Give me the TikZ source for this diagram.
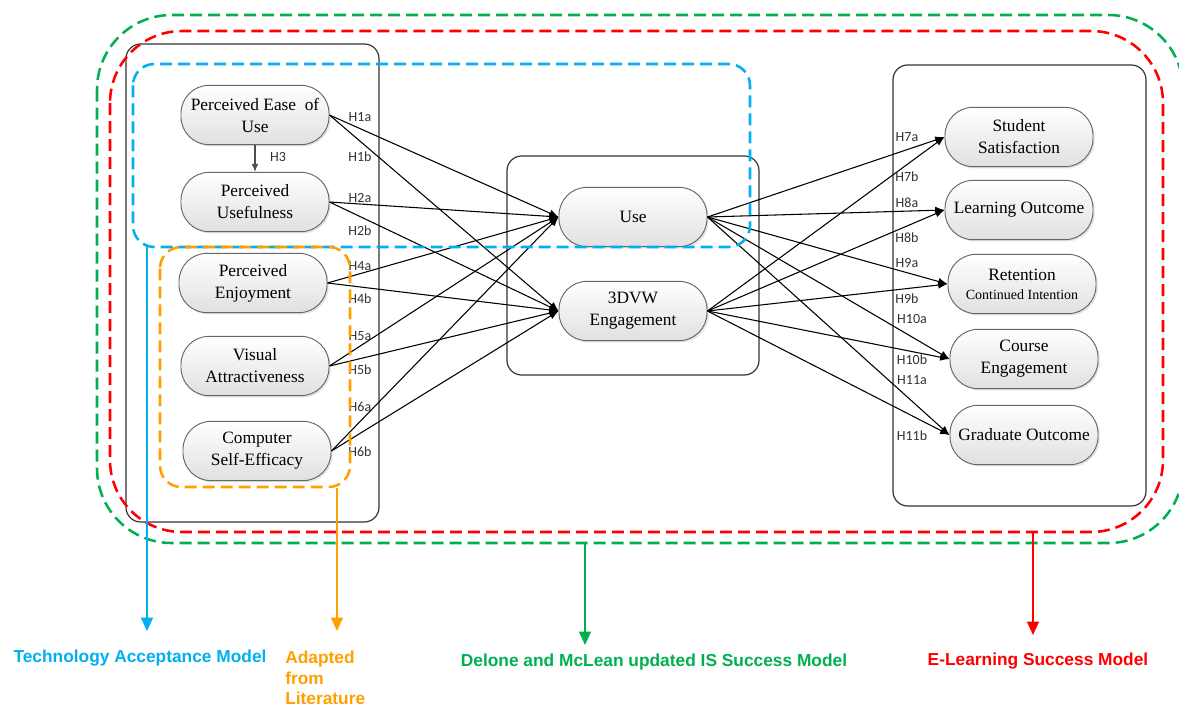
\documentclass[tikz,border=0pt]{standalone}
\usepackage{fontspec}
\setmainfont{Liberation Serif}
\newfontfamily\hfont{Carlito}
\newfontfamily\lfont{Liberation Sans}
\usetikzlibrary{arrows.meta,shadows}
\definecolor{tamblue}{HTML}{00B0F0}
\definecolor{litorange}{HTML}{FFA000}
\definecolor{isgreen}{HTML}{00B050}
\definecolor{elred}{HTML}{FF0000}
\begin{document}
\begin{tikzpicture}[x=0.75pt,y=-0.75pt,
 construct/.style={draw=black!60, line width=0.7pt, rounded corners=21pt,
   minimum width=111pt, minimum height=44.5pt, inner sep=2pt, align=center,
   top color=white, bottom color=black!12,
   drop shadow={opacity=0.22, shadow xshift=1.3pt, shadow yshift=-1.3pt},
   font=\fontsize{13}{16.5}\selectfont},
 groupbox/.style={draw=black!80, line width=0.9pt, rounded corners=11pt},
 hyp/.style={font=\hfont\fontsize{10.5}{12}\selectfont, text=black!80, inner sep=0pt},
 hypedge/.style={draw=black, line width=0.8pt, -{Latex[length=7pt,width=5.5pt]}},
 modelbox/.style={line width=1.9pt, dash pattern=on 9pt off 4.5pt, rounded corners=#1},
 pointer/.style={line width=0.8pt, -{Triangle[length=10pt,width=9pt]}},
 legend/.style={font=\lfont\bfseries\fontsize{13}{15.4}\selectfont, inner sep=0pt}
]
\useasboundingbox (0,0) rectangle (1179,707);

% grouping boxes
\draw[groupbox] (126,44) rectangle (379,522);
\draw[groupbox] (507,156) rectangle (759,375);
\draw[groupbox] (893,65) rectangle (1146,506);

% constructs
\node[construct] (peou) at (255,115) {Perceived Ease\ \ of\\Use};
\node[construct] (pu)   at (255,202) {Perceived\\Usefulness};
\node[construct] (pe)   at (253,283) {Perceived\\Enjoyment};
\node[construct] (va)   at (255,366) {Visual\\Attractiveness};
\node[construct] (cse)  at (257,451) {Computer\\Self-Efficacy};
\node[construct] (use)  at (633,217) {Use};
\node[construct] (eng)  at (633,311) {3DVW\\Engagement};
\node[construct] (ss)   at (1019,137) {Student\\Satisfaction};
\node[construct] (lo)   at (1019,210) {Learning Outcome};
\node[construct] (ret)  at (1022,284) {Retention\\[-2pt]{\fontsize{10.5}{12}\selectfont Continued Intention}};
\node[construct] (ce)   at (1024,359) {Course\\Engagement};
\node[construct] (go)   at (1024,435) {Graduate Outcome};

% hypotheses paths
\draw[draw=black!70, line width=0.8pt, -{Latex[length=6pt,width=5pt]}] (peou) -- (pu);
\foreach \s in {peou,pu,pe,va,cse}{
  \draw[hypedge] (\s.east) -- (use.west);
  \draw[hypedge] (\s.east) -- (eng.west);
}
\foreach \t in {ss,lo,ret,ce,go}{
  \draw[hypedge] (use.east) -- (\t.west);
  \draw[hypedge] (eng.east) -- (\t.west);
}

% hypothesis labels
\node[hyp] (h3)  at (278,157) {H3};
\node[hyp] (h1a) at (360,117) {H1a};
\node[hyp] (h1b) at (360,157) {H1b};
\node[hyp] (h2a) at (360,198) {H2a};
\node[hyp] (h2b) at (360,231) {H2b};
\node[hyp] (h4a) at (360,266) {H4a};
\node[hyp] (h4b) at (360,299) {H4b};
\node[hyp] (h5a) at (360,336) {H5a};
\node[hyp] (h5b) at (360,370) {H5b};
\node[hyp] (h6a) at (360,407) {H6a};
\node[hyp] (h6b) at (360,452) {H6b};
\node[hyp] (h7a) at (907,137) {H7a};
\node[hyp] (h7b) at (907,177) {H7b};
\node[hyp] (h8a) at (907,203) {H8a};
\node[hyp] (h8b) at (907,238) {H8b};
\node[hyp] (h9a) at (907,263) {H9a};
\node[hyp] (h9b) at (907,299) {H9b};
\node[hyp] (h10a) at (912,319) {H10a};
\node[hyp] (h10b) at (912,360) {H10b};
\node[hyp] (h11a) at (912,380) {H11a};
\node[hyp] (h11b) at (912,436) {H11b};

% model boundaries
\draw[modelbox=56pt, draw=isgreen] (97,15) rectangle (1183,543);
\draw[modelbox=54pt, draw=elred] (110,31) rectangle (1163,532);
\draw[modelbox=16pt, draw=tamblue] (133,64) rectangle (750,247);
\draw[modelbox=16pt, draw=litorange] (160,247) rectangle (350,487);

% legend pointers
\coordinate (tamS) at (147,247);  \coordinate (tamT) at (147,631);
\coordinate (litS) at (337,488);  \coordinate (litT) at (337,631);
\coordinate (isS)  at (585,543);  \coordinate (isT)  at (585,645);
\coordinate (elS)  at (1033,532); \coordinate (elT)  at (1033,635);
\draw[pointer, draw=tamblue, fill=tamblue] (tamS) -- (tamT);
\draw[pointer, draw=litorange, fill=litorange] (litS) -- (litT);
\draw[pointer, draw=isgreen, fill=isgreen] (isS) -- (isT);
\draw[pointer, draw=elred, fill=elred] (elS) -- (elT);

\node[legend, text=tamblue] (tam) at (140,658) {Technology Acceptance Model};
\node[legend, text=litorange, anchor=west, align=left] (lit) at (285,678) {Adapted\\from\\Literature};
\node[legend, text=isgreen] (is) at (654,662) {Delone and McLean updated IS Success Model};
\node[legend, text=elred] (el) at (1038,661) {E-Learning Success Model};
\end{tikzpicture}
\end{document}
